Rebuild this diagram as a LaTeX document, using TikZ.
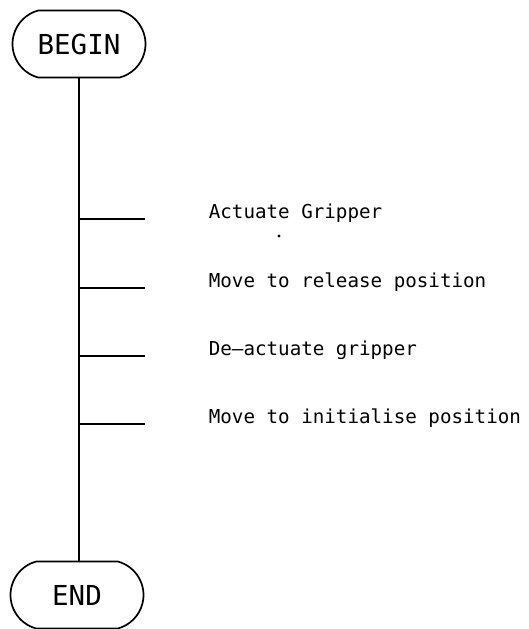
\documentclass[tikz,border=0pt]{standalone}
\usepackage{fontspec}
\newfontfamily\plotfont{DejaVu Sans Mono}
\usetikzlibrary{shapes.misc}
\begin{document}
\begin{tikzpicture}[x=1pt,y=1pt,
  line width=1.7pt,
  terminal/.style={draw, rounded rectangle, rounded rectangle arc length=150, minimum width=133pt, minimum height=67pt, inner sep=0pt, font=\plotfont\fontsize{27.5}{30}\selectfont},
  steptext/.style={anchor=base west, inner sep=0pt, font=\plotfont\fontsize{19.2}{22}\selectfont},
  tick/.style={line width=1.7pt}]
\useasboundingbox (0,0) rectangle (528,-629);
\node[terminal] (begin) at (79,-44) {BEGIN};
\node[terminal] (end) at (77,-595) {END};
\draw (begin.south) -- (begin.south |- end.north);
\foreach \y/\n in {219/1,288/2,356/3,424/4} {
  \coordinate (l\n) at (78,-\y);
  \coordinate (r\n) at (145,-\y);
  \draw[tick] (l\n) -- (r\n);
}
\node[steptext] (s1) at (208,-218) {Actuate Gripper};
\node[steptext] (s2) at (208,-287) {Move to release position};
\node[steptext] (s3) at (208,-355) {De–actuate gripper};
\node[steptext] (s4) at (208,-423) {Move to initialise position};
\fill (279,-236) circle (1.6pt);
\end{tikzpicture}
\end{document}
